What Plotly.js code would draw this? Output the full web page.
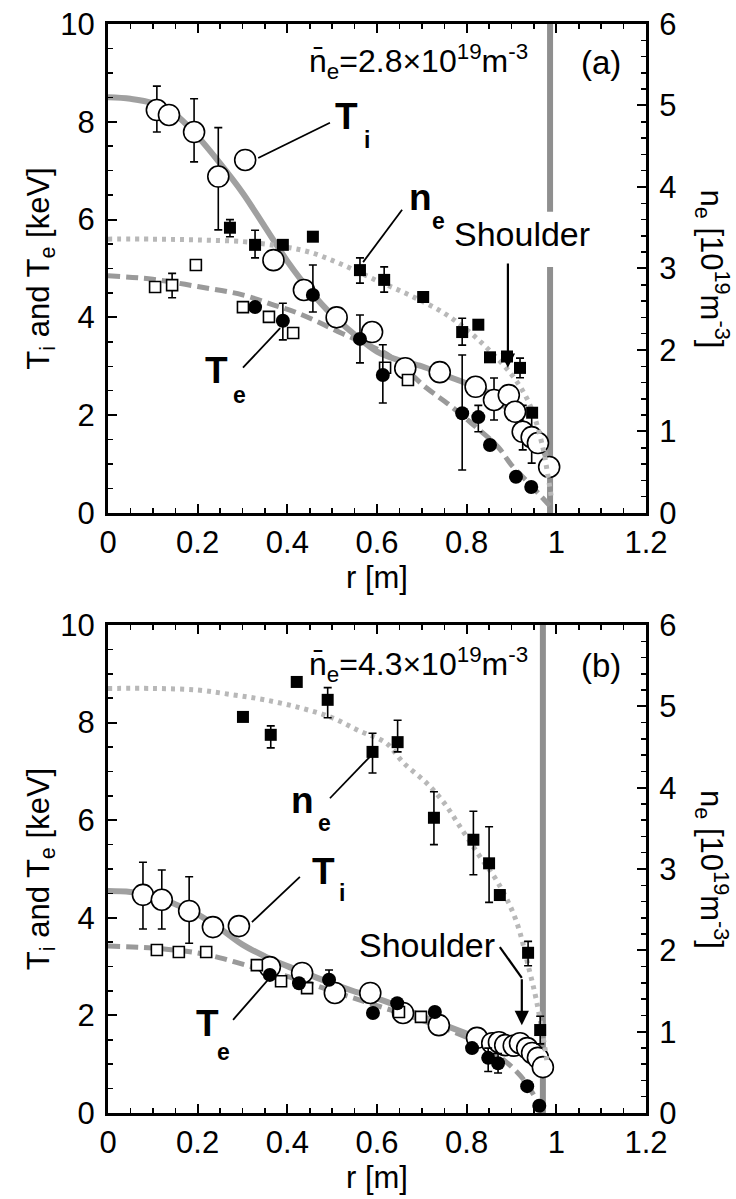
<!DOCTYPE html>
<html><head><meta charset="utf-8">
<script src="https://cdn.plot.ly/plotly-3.0.1.min.js"></script>
<style>html,body{margin:0;padding:0;background:#fff}</style>
</head><body>
<div id="chart" style="width:736px;height:1199px"></div>
<script>
// ---------- Panel (a) data ----------
const aTiR   = [0.109,0.136,0.192,0.246,0.369,0.437,0.51,0.589,0.663,0.74,0.82,0.861,0.894,0.908,0.925,0.945,0.959,0.984];
const aTiT   = [8.24,8.14,7.79,6.88,5.17,4.56,4.0,3.70,2.96,2.88,2.58,2.31,2.41,2.07,1.66,1.55,1.43,0.94];
const aTiEp  = [0.49,NaN,0.68,1.0,NaN,NaN,NaN,NaN,NaN,NaN,NaN,0.45,NaN,NaN,0.54,0.45,NaN,NaN];
const aTiEm  = [0.45,NaN,0.61,1.09,NaN,NaN,NaN,NaN,NaN,NaN,NaN,0.41,NaN,NaN,0.37,0.53,NaN,NaN];
const aTeFR  = [0.328,0.39,0.457,0.562,0.613,0.79,0.826,0.852,0.91,0.944];
const aTeFT  = [4.21,3.93,4.46,3.56,2.82,2.04,1.96,1.39,0.74,0.53];
const aTeFEp = [NaN,0.36,0.61,0.49,0.62,1.19,0.24,NaN,NaN,NaN];
const aTeFEm = [NaN,0.39,0.35,0.49,0.57,1.16,0.30,NaN,NaN,NaN];
const aTeSR  = [0.105,0.143,0.196,0.301,0.359,0.413,0.618,0.669];
const aTeST  = [4.62,4.66,5.07,4.21,4.01,3.68,2.97,2.72];
const aTeSEp = [NaN,0.24,NaN,NaN,NaN,NaN,NaN,NaN];
const aTeSEm = [NaN,0.26,NaN,NaN,NaN,NaN,NaN,NaN];
const aNeR   = [0.272,0.328,0.39,0.457,0.562,0.616,0.703,0.79,0.826,0.852,0.89,0.919,0.946];
const aNe    = [3.50,3.29,3.29,3.39,2.98,2.86,2.65,2.22,2.31,1.91,1.92,1.78,1.23];
const aNeEp  = [0.10,0.18,NaN,NaN,0.15,0.16,NaN,0.17,NaN,NaN,NaN,0.12,NaN];
const aNeEm  = [0.11,0.16,NaN,NaN,0.16,0.15,NaN,0.16,NaN,NaN,NaN,0.12,NaN];
const aTiFitR = [0,0.05,0.1,0.15,0.2,0.25,0.3,0.35,0.4,0.45,0.5,0.55,0.6,0.65,0.7,0.75,0.8,0.85,0.9,0.94,0.97,0.985];
const aTiFitT = [8.5,8.47,8.38,8.15,7.7,7.15,6.55,5.85,5.15,4.55,4.05,3.65,3.3,3.12,3.0,2.82,2.65,2.45,2.05,1.7,1.3,0.95];
const aTeFitR = [0,0.1,0.2,0.3,0.37,0.42,0.47,0.52,0.58,0.63,0.71,0.76,0.81,0.87,0.9,0.94,0.97,0.99];
const aTeFitT = [4.85,4.78,4.63,4.46,4.25,4.1,3.9,3.68,3.44,3.2,2.56,2.22,1.84,1.35,0.98,0.6,0.3,0.1];
const aNeFitR = [0,0.1,0.2,0.3,0.35,0.4,0.45,0.5,0.55,0.6,0.65,0.7,0.75,0.8,0.85,0.9,0.93,0.95,0.97,0.98,0.99];
const aNeFit  = [3.36,3.36,3.35,3.33,3.3,3.26,3.2,3.1,2.98,2.85,2.73,2.6,2.45,2.25,2.0,1.7,1.45,1.2,0.8,0.5,0.15];
const aKeyR = [0.306], aKeyT = [7.22];

// ---------- Panel (b) data ----------
const bTiR   = [0.078,0.12,0.181,0.234,0.361,0.433,0.506,0.585,0.658,0.738,0.823,0.857,0.872,0.886,0.905,0.919,0.935,0.946,0.959,0.97];
const bTiT   = [4.47,4.37,4.14,3.81,2.99,2.87,2.46,2.46,2.05,1.80,1.54,1.43,1.45,1.39,1.38,1.43,1.33,1.23,1.13,0.94];
const bTiEp  = [0.67,0.61,0.70,NaN,NaN,NaN,NaN,NaN,NaN,NaN,NaN,NaN,NaN,NaN,NaN,NaN,NaN,NaN,NaN,NaN];
const bTiEm  = [0.70,0.60,0.66,NaN,NaN,NaN,NaN,NaN,NaN,NaN,NaN,NaN,NaN,NaN,NaN,NaN,NaN,NaN,NaN,NaN];
const bTeFR  = [0.361,0.426,0.493,0.591,0.645,0.729,0.812,0.848,0.87,0.935,0.962];
const bTeFT  = [2.83,2.66,2.73,2.05,2.25,2.07,1.33,1.13,1.02,0.55,0.15];
const bTeFEp = [NaN,NaN,0.2,NaN,NaN,NaN,NaN,0.2,0.2,NaN,NaN];
const bTeFEm = [NaN,NaN,0.0,NaN,NaN,NaN,NaN,0.28,0.2,NaN,NaN];
const bTeSR  = [0.109,0.158,0.219,0.332,0.386,0.444,0.649,0.698];
const bTeST  = [3.34,3.30,3.30,3.03,2.70,2.56,2.07,1.97];
const bNeR   = [0.301,0.363,0.421,0.49,0.59,0.646,0.727,0.815,0.85,0.874,0.937,0.964];
const bNe    = [4.87,4.65,5.30,5.08,4.44,4.56,3.63,3.36,3.07,2.68,1.97,1.02];
const bNeEp  = [NaN,0.11,NaN,0.15,0.23,0.27,0.32,0.35,0.45,NaN,0.14,0.17];
const bNeEm  = [NaN,0.16,NaN,0.22,0.26,0.12,0.33,0.43,0.48,NaN,0.16,0.17];
const bTiFitR = [0,0.05,0.1,0.15,0.2,0.25,0.3,0.35,0.4,0.45,0.5,0.55,0.6,0.65,0.7,0.75,0.8,0.85,0.9,0.94,0.97];
const bTiFitT = [4.55,4.53,4.45,4.28,4.07,3.78,3.45,3.21,3.01,2.83,2.65,2.49,2.35,2.18,1.98,1.8,1.63,1.46,1.33,1.23,1.0];
const bTeFitR = [0,0.1,0.2,0.25,0.3,0.35,0.4,0.5,0.6,0.7,0.8,0.85,0.9,0.93,0.96];
const bTeFitT = [3.42,3.38,3.28,3.18,3.05,2.92,2.8,2.5,2.2,1.9,1.55,1.3,0.95,0.65,0.2];
const bNeFitR = [0,0.1,0.2,0.28,0.35,0.43,0.5,0.56,0.62,0.66,0.71,0.75,0.79,0.83,0.87,0.91,0.94,0.955,0.97,0.98];
const bNeFit  = [5.22,5.22,5.2,5.14,5.08,4.98,4.86,4.7,4.55,4.3,4.06,3.81,3.48,3.15,2.83,2.37,1.75,1.4,0.95,0.6];
const bKeyR = [0.292], bKeyT = [3.83];

// ---------- Labels ----------
const xTickVals = [0,0.2,0.4,0.6,0.8,1,1.2];
const xTickText = ['0','0.2','0.4','0.6','0.8','1','1.2'];
const nbarA = 'n\u0304<sub>e</sub>=2.8\u00d710<sup>19</sup>m<sup>-3</sup>';
const nbarB = 'n\u0304<sub>e</sub>=4.3\u00d710<sup>19</sup>m<sup>-3</sup>';

const FONT = 'Liberation Sans, Arial, Helvetica, sans-serif';
const TICK = 31, TITLE = 31;

function err(p, m){ return {type:'data', symmetric:false, array:p, arrayminus:m, color:'#000', thickness:1.6, width:4}; }
function fit(x, y, xa, ya, color, dash, w){
  return {x:x, y:y, xaxis:xa, yaxis:ya, mode:'lines', line:{color:color, width:w, dash:dash, shape:'spline'}, hoverinfo:'skip'};
}
const openC = {symbol:'circle', size:21, color:'#fff', line:{color:'#000', width:1.6}};
const fillC = {symbol:'circle', size:14, color:'#000'};
const openS = {symbol:'square', size:11, color:'#fff', line:{color:'#000', width:1.6}};
const fillS = {symbol:'square', size:12, color:'#000'};

const traces = [
  fit(aNeFitR, aNeFit, 'x', 'y2', '#b8b8b8', '4px,5px', 5),
  fit(aTeFitR, aTeFitT, 'x', 'y', '#9a9a9a', '12px,6px', 5),
  fit(aTiFitR, aTiFitT, 'x', 'y', '#a0a0a0', 'solid', 6),
  {x:aTiR, y:aTiT, xaxis:'x', yaxis:'y', mode:'markers', marker:openC, error_y:err(aTiEp,aTiEm)},
  {x:aKeyR, y:aKeyT, xaxis:'x', yaxis:'y', mode:'markers', marker:openC},
  {x:aTeSR, y:aTeST, xaxis:'x', yaxis:'y', mode:'markers', marker:openS, error_y:err(aTeSEp,aTeSEm)},
  {x:aTeFR, y:aTeFT, xaxis:'x', yaxis:'y', mode:'markers', marker:fillC, error_y:err(aTeFEp,aTeFEm)},
  {x:aNeR, y:aNe, xaxis:'x', yaxis:'y2', mode:'markers', marker:fillS, error_y:err(aNeEp,aNeEm)},

  fit(bNeFitR, bNeFit, 'x2', 'y4', '#b8b8b8', '4px,5px', 5),
  fit(bTeFitR, bTeFitT, 'x2', 'y3', '#9a9a9a', '12px,6px', 5),
  fit(bTiFitR, bTiFitT, 'x2', 'y3', '#a0a0a0', 'solid', 6),
  {x:bTiR, y:bTiT, xaxis:'x2', yaxis:'y3', mode:'markers', marker:openC, error_y:err(bTiEp,bTiEm)},
  {x:bKeyR, y:bKeyT, xaxis:'x2', yaxis:'y3', mode:'markers', marker:openC},
  {x:bTeSR, y:bTeST, xaxis:'x2', yaxis:'y3', mode:'markers', marker:openS},
  {x:bTeFR, y:bTeFT, xaxis:'x2', yaxis:'y3', mode:'markers', marker:fillC, error_y:err(bTeFEp,bTeFEm)},
  {x:bNeR, y:bNe, xaxis:'x2', yaxis:'y4', mode:'markers', marker:fillS, error_y:err(bNeEp,bNeEm)}
];

function xax(anchor){
  return {domain:[0,1], anchor:anchor, range:[0,1.2], tickmode:'array', tickvals:xTickVals, ticktext:xTickText,
    ticks:'inside', ticklen:9, tickwidth:2, tickcolor:'#000',
    minor:{dtick:0.05, tick0:0, ticks:'inside', ticklen:5, tickwidth:1.5, tickcolor:'#000', showgrid:false},
    showline:true, linewidth:3, linecolor:'#000', mirror:'ticks', showgrid:false, zeroline:false,
    tickfont:{size:TICK, family:FONT, color:'#000'},
    title:{text:'r [m]', font:{size:TITLE, family:FONT, color:'#000'}, standoff:4}};
}
function yleft(domain, anchor){
  return {domain:domain, anchor:anchor, range:[0,10], tick0:0, dtick:2,
    ticks:'inside', ticklen:9, tickwidth:2, tickcolor:'#000',
    minor:{dtick:0.5, tick0:0, ticks:'inside', ticklen:5, tickwidth:1.5, tickcolor:'#000', showgrid:false},
    showline:true, linewidth:3, linecolor:'#000', showgrid:false, zeroline:false, ticklabelstandoff:4,
    tickfont:{size:TICK, family:FONT, color:'#000'},
    title:{text:'T<sub>i</sub> and T<sub>e</sub> [keV]', font:{size:TITLE, family:FONT, color:'#000'}, standoff:2}};
}
function yright(over, anchor){
  return {overlaying:over, anchor:anchor, side:'right', range:[0,6], tick0:0, dtick:1,
    ticks:'inside', ticklen:9, tickwidth:2, tickcolor:'#000',
    minor:{dtick:0.2, tick0:0, ticks:'inside', ticklen:5, tickwidth:1.5, tickcolor:'#000', showgrid:false},
    showline:true, linewidth:3, linecolor:'#000', showgrid:false, zeroline:false, ticklabelstandoff:4,
    tickfont:{size:TICK, family:FONT, color:'#000'}};
}

function txt(xr, yr, x, y, text, size, bold, xanchor){
  return {xref:xr, yref:yr, x:x, y:y, text: bold ? '<b>'+text+'</b>' : text, showarrow:false,
    xanchor:xanchor||'center', yanchor:'middle', font:{size:size, family:FONT, color:'#000'}};
}
function seg(xr, yr, x0, y0, x1, y1, color, w){
  return {type:'line', xref:xr, yref:yr, x0:x0, y0:y0, x1:x1, y1:y1, line:{color:color||'#000', width:w||1.8}};
}

const annotations = [
  txt('x','y',0.443,9.24,nbarA,32,false,'left'),
  txt('x','y',1.10,9.22,'(a)',33,false),
  txt('x','y',0.533,8.10,'T',37,true),
  txt('x','y',0.577,7.63,'i',23,true),
  txt('x','y',0.697,6.46,'n',37,true),
  txt('x','y',0.738,5.97,'e',23,true),
  txt('x','y',0.243,2.92,'T',37,true),
  txt('x','y',0.294,2.41,'e',23,true),
  txt('x','y',0.924,5.71,'Shoulder',34,false),
  {xref:'x', yref:'y', x:0.892, y:2.97, axref:'x', ayref:'y', ax:0.892, ay:5.13, text:'', showarrow:true,
   arrowhead:2, arrowsize:1.3, arrowwidth:2.2, arrowcolor:'#000'},

  txt('x2','y3',0.443,9.20,nbarB,32,false,'left'),
  txt('x2','y3',1.10,9.18,'(b)',33,false),
  txt('x2','y3',0.433,6.41,'n',37,true),
  txt('x2','y3',0.483,5.94,'e',23,true),
  txt('x2','y3',0.480,4.94,'T',37,true),
  txt('x2','y3',0.522,4.51,'i',23,true),
  txt('x2','y3',0.221,1.84,'T',37,true),
  txt('x2','y3',0.258,1.25,'e',23,true),
  txt('x2','y3',0.712,3.44,'Shoulder',34,false),
  {xref:'x2', yref:'y3', x:0.923, y:1.80, axref:'x2', ayref:'y3', ax:0.923, ay:2.77, text:'', showarrow:true,
   arrowhead:2, arrowsize:1.3, arrowwidth:2.2, arrowcolor:'#000'},

  {xref:'paper', yref:'paper', x:1.1227, y:0.7755, text:'n<sub>e</sub> [10<sup>19</sup>m<sup>-3</sup>]', textangle:90,
   showarrow:false, xanchor:'center', yanchor:'middle', font:{size:TITLE, family:FONT, color:'#000'}},
  {xref:'paper', yref:'paper', x:1.1227, y:0.224, text:'n<sub>e</sub> [10<sup>19</sup>m<sup>-3</sup>]', textangle:90,
   showarrow:false, xanchor:'center', yanchor:'middle', font:{size:TITLE, family:FONT, color:'#000'}}
];

const shapes = [
  seg('x','y',0.986,0,0.986,5.03,'#8f8f8f',6),
  seg('x','y',0.986,6.16,0.986,10,'#8f8f8f',6),
  seg('x','y',0.335,7.26,0.495,7.98),
  seg('x','y',0.656,6.20,0.569,5.13),
  seg('x','y',0.301,2.97,0.384,3.78),

  seg('x2','y3',0.970,0,0.970,10,'#8f8f8f',6),
  seg('x2','y3',0.495,6.45,0.584,7.30),
  seg('x2','y3',0.321,3.91,0.428,4.84),
  seg('x2','y3',0.279,1.91,0.357,2.73),
  seg('x2','y3',0.874,3.40,0.923,2.77,'#000',2.2)
];
shapes.forEach(s => s.layer = 'below');
shapes[2].layer = shapes[3].layer = shapes[4].layer = 'above';
shapes[6].layer = shapes[7].layer = shapes[8].layer = shapes[9].layer = 'above';

const layout = {
  width:736, height:1199, paper_bgcolor:'#fff', plot_bgcolor:'#fff',
  margin:{l:108, r:90, t:24, b:86, pad:0},
  showlegend:false,
  font:{family:FONT, color:'#000'},
  xaxis: xax('y'),
  yaxis: yleft([0.551,1], 'x'),
  yaxis2: yright('y', 'x'),
  xaxis2: xax('y3'),
  yaxis3: yleft([0,0.4481], 'x2'),
  yaxis4: yright('y3', 'x2'),
  annotations: annotations,
  shapes: shapes
};

Plotly.newPlot('chart', traces, layout, {staticPlot:true, displayModeBar:false});
</script>
</body></html>
